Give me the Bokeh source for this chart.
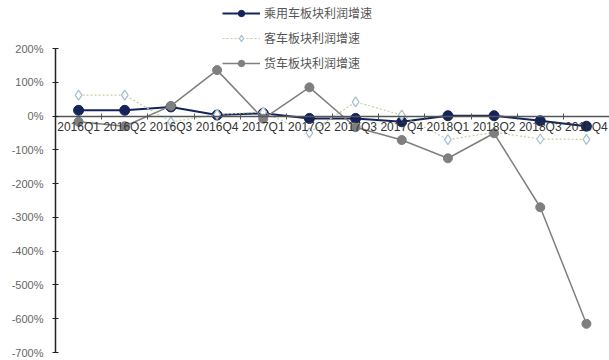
from bokeh.plotting import figure
from bokeh.models import (Range1d, LinearAxis, FixedTicker, PrintfTickFormatter,
                          Legend, LegendItem, ColumnDataSource)
from bokeh.embed import file_html
from bokeh.resources import INLINE

quarters = ["2016Q1", "2016Q2", "2016Q3", "2016Q4", "2017Q1", "2017Q2",
            "2017Q3", "2017Q4", "2018Q1", "2018Q2", "2018Q3", "2018Q4"]
passenger_car = [17, 17, 27, 3, 8, -7, -7, -17, 1, 1, -14, -30]
bus = [62, 62, -17, 5, 12, -50, 42, 3, -70, -48, -68, -69]
truck = [-17, -30, 30, 136, -8, 85, -33, -71, -125, -51, -270, -615]
series_names = ["乘用车板块利润增速", "客车板块利润增速", "货车板块利润增速"]
y_ticks = [-700, -600, -500, -400, -300, -200, -100, 0, 100, 200]

centers = [i + 0.5 for i in range(len(quarters))]
bounds = [i for i in range(1, len(quarters))]
src = ColumnDataSource(dict(x=centers, q=quarters, pc=passenger_car, bus=bus, truck=truck))

# axis spans 304 px; keep 48 px of room above it for the legend
axis_px, top_px = 304, 48
y_end = y_ticks[-1] + top_px * (y_ticks[-1] - y_ticks[0]) / axis_px

p = figure(width=609, height=360, output_backend="svg", toolbar_location=None,
           x_range=Range1d(0, len(quarters)), y_range=Range1d(y_ticks[0], y_end),
           x_axis_location=None, min_border_left=55, min_border_right=0,
           min_border_top=0, min_border_bottom=8)
p.outline_line_color = None
p.xgrid.visible = False
p.ygrid.visible = False
p.background_fill_color = "white"
p.border_fill_color = "white"

# y axis
ya = p.yaxis[0]
ya.bounds = (y_ticks[0], y_ticks[-1])
ya.ticker = FixedTicker(ticks=y_ticks, num_minor_ticks=5)
ya.formatter = PrintfTickFormatter(format="%d%%")
ya.axis_line_color = "#222222"
ya.axis_line_width = 1.5
ya.major_tick_line_color = "#222222"
ya.minor_tick_line_color = "#222222"
ya.major_tick_in = 3
ya.major_tick_out = 3
ya.minor_tick_in = 2
ya.minor_tick_out = 2
ya.major_label_standoff = 9
ya.major_label_text_font = "Liberation Sans"
ya.major_label_text_font_size = "11px"
ya.major_label_text_color = "#666666"

# x axis line with ticks between categories, at 0
xt = LinearAxis(ticker=FixedTicker(ticks=bounds), fixed_location=0,
                major_label_overrides={b: "" for b in bounds})
xt.axis_line_color = "#555555"
xt.axis_line_width = 1.5
xt.major_tick_line_color = "#555555"
xt.major_tick_in = 3
xt.major_tick_out = 3
xt.minor_tick_line_color = None
p.add_layout(xt, "below")

# category labels
xl = LinearAxis(ticker=FixedTicker(ticks=centers), fixed_location=0,
                major_label_overrides={c: q for c, q in zip(centers, quarters)})
xl.axis_line_color = None
xl.major_tick_line_color = None
xl.minor_tick_line_color = None
xl.major_tick_out = 0
xl.major_tick_in = 0
xl.major_label_standoff = 4
xl.major_label_text_font = "Liberation Sans"
xl.major_label_text_font_size = "12px"
xl.major_label_text_color = "#333333"
p.add_layout(xl, "below")

navy = "#14245a"
r1l = p.line("x", "pc", source=src, line_color=navy, line_width=2)
r1m = p.scatter("x", "pc", source=src, size=10, marker="circle",
                fill_color=navy, line_color=navy)

r2l = p.line("x", "bus", source=src, line_color="#c5d0a0", line_width=1.2, line_dash="2 2")
r2m = p.scatter("x", "bus", source=src, size=10, marker="diamond",
                fill_color="white", line_color="#a7bfcc", line_width=1.2)

grey = "#7f7f7f"
r3l = p.line("x", "truck", source=src, line_color=grey, line_width=1.5)
r3m = p.scatter("x", "truck", source=src, size=9, marker="circle",
                fill_color=grey, line_color=grey)

legend = Legend(items=[
    LegendItem(label=series_names[0], renderers=[r1l, r1m]),
    LegendItem(label=series_names[1], renderers=[r2l, r2m]),
    LegendItem(label=series_names[2], renderers=[r3l, r3m]),
], location=(167, 281), orientation="vertical")
legend.label_text_font = "Noto Sans CJK SC"
legend.label_text_font_size = "12px"
legend.label_text_color = "#555555"
legend.glyph_width = 38
legend.glyph_height = 16
legend.label_height = 16
legend.spacing = 8
legend.label_standoff = 4
legend.padding = 0
legend.margin = 0
legend.border_line_color = None
legend.background_fill_alpha = 0
p.add_layout(legend, "center")

open("out.html", "w").write(file_html(p, INLINE))
